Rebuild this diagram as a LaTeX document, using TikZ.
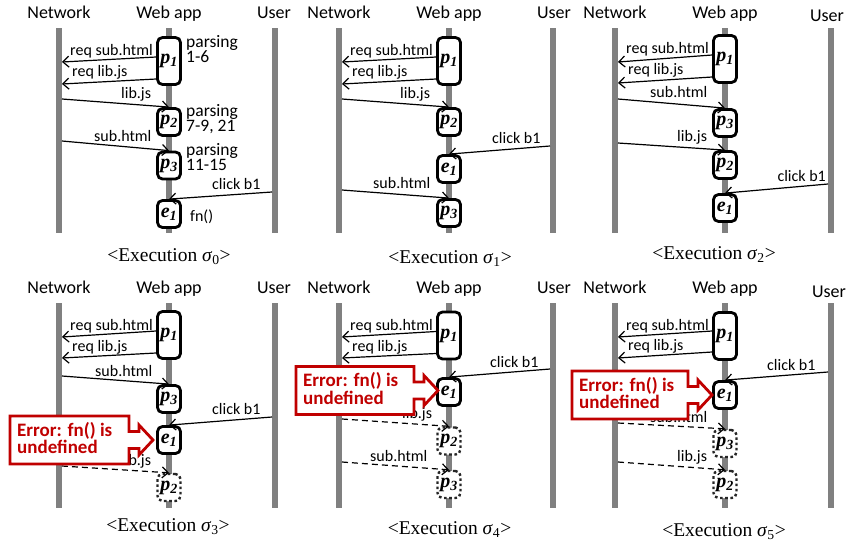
\documentclass[tikz,border=0pt]{standalone}
\usepackage{fontspec}
\setmainfont{Liberation Serif}
\newfontfamily\carlito{Carlito}
\usetikzlibrary{arrows.meta}
\definecolor{lifegray}{HTML}{808080}
\definecolor{errred}{HTML}{C00000}
\newcommand\hdrfont{\carlito\fontsize{18}{20}\selectfont}
\newcommand\lblfont{\carlito\fontsize{16}{18}\selectfont}
\newcommand\notefont{\carlito\fontsize{17.5}{19}\selectfont}
\newcommand\errfont{\carlito\bfseries\fontsize{19}{20}\selectfont}
\newcommand\capfont{\fontsize{19.5}{22}\selectfont}
\newcommand\boxfont{\bfseries\itshape\fontsize{20}{22}\selectfont}
\newcommand\procp[1]{p\textsubscript{#1}}
\newcommand\evte[1]{e\textsubscript{#1}}
\newcommand\execcap[1]{<Execution \textit{σ}\textsubscript{\upshape #1}>}
% two stacked lines whose baseline is that of the first line
\newcommand\twolines[3]{\vtop{\baselineskip=#3\relax\hbox{#1}\hbox{#2}}}

\tikzset{
  lifeline/.style={draw=lifegray, line width=5.5pt},
  proc/.style={draw, line width=2.8pt, rounded corners=5pt, fill=white,
    minimum width=23pt, minimum height=27pt, inner sep=0pt, font=\boxfont},
  tallproc/.style={proc, minimum height=47pt},
  ghost/.style={proc, draw=black!85, line width=2.4pt, dash pattern=on 2.6pt off 2.6pt},
  msg/.style={line width=1.2pt, -{Straight Barb[length=6pt,width=11pt,line width=1.2pt]}},
  pending/.style={msg, dash pattern=on 6pt off 4pt},
  lbl/.style={font=\lblfont, inner sep=0pt, anchor=base west},
  lble/.style={font=\lblfont, inner sep=0pt, anchor=base east},
  note/.style={font=\notefont, inner sep=0pt, anchor=base west},
  hdr/.style={font=\hdrfont, inner sep=0pt, anchor=base},
  captxt/.style={font=\capfont, inner sep=0pt, anchor=base},
  calloutline/.style={draw=errred, line width=2.8pt, fill=white, line join=miter},
  errtext/.style={font=\errfont, text=errred, inner sep=0pt, anchor=base west},
}

% three lifelines with their headers
\newcommand\lanes[3]{%
  \coordinate (#1-nt) at (59,28); \coordinate (#1-nb) at (59,233);
  \coordinate (#1-wt) at (169,28); \coordinate (#1-wb) at (169,233);
  \coordinate (#1-ut) at (#2,28); \coordinate (#1-ub) at (#2,233);
  \draw[lifeline] (#1-nt) -- (#1-nb);
  \draw[lifeline] (#1-wt) -- (#1-wb);
  \draw[lifeline] (#1-ut) -- (#1-ub);
  \node[hdr] (#1-hn) at (59,18) {Network};
  \node[hdr] (#1-hw) at (169,18) {Web app};
  \node[hdr] (#1-hu) at (#3) {User};
}

% red arrow-shaped error note: name, left x, centre y, tip x
\newcommand\errcallout[4]{%
  \draw[calloutline] (#2,#3-24) -- (#4-24,#3-24) -- (#4-24,#3-8.5) -- (#4-14,#3-8.5)
    -- (#4-14,#3-15) -- (#4,#3) -- (#4-14,#3+15) -- (#4-14,#3+8.5) -- (#4-24,#3+8.5)
    -- (#4-24,#3+24) -- (#2,#3+24) -- cycle;
  \node[errtext] (#1) at (#2+7,#3-4) {\twolines{Error: fn() is}{undefined}{17.5pt}};
}

\begin{document}
\begin{tikzpicture}[x=1pt,y=-1pt]
\fill[white] (0,0) rectangle (853,544);
\useasboundingbox (0,0) rectangle (853,544);

%% ---------------- sigma 0 ----------------
\begin{scope}
  \lanes{a}{275}{274,18}
  \coordinate (a-q1) at (62,62);
  \coordinate (a-q2) at (62,84);
  \coordinate (a-s1) at (62,99);
  \coordinate (a-s2) at (62,141);
  \coordinate (a-s3) at (272,192);
  \node[tallproc] (a-p1) at (169,61) {\procp{1}};
  \node[proc] (a-p2) at (169,122) {\procp{2}};
  \node[proc] (a-p3) at (169,165.5) {\procp{3}};
  \node[proc] (a-e1) at (169,214) {\evte{1}};
  \draw[msg] ([yshift=4pt]a-p1.west) -- (a-q1);
  \draw[msg] ([yshift=-18pt]a-p1.west) -- (a-q2);
  \draw[msg] (a-s1) -- (a-p2.north);
  \draw[msg] (a-s2) -- (a-p3.north);
  \draw[msg] (a-s3) -- (a-e1.north);
  \node[lbl] (a-l1) at (70,55) {req sub.html};
  \node[lbl] (a-l2) at (72,76) {req lib.js};
  \node[lbl] (a-l3) at (121,98) {lib.js};
  \node[lbl] (a-l4) at (94,141) {sub.html};
  \node[lbl] (a-l5) at (212,189) {click b1};
  \node[note] (a-n1) at (186,47) {\twolines{parsing}{1-6}{15pt}};
  \node[note] (a-n2) at (186,116) {\twolines{parsing}{7-9, 21}{15pt}};
  \node[note] (a-n3) at (186,155) {\twolines{parsing}{11-15}{15pt}};
  \node[lbl] (a-n4) at (190,221) {fn()};
  \node[captxt] (a-cap) at (169,261) {\execcap{0}};
\end{scope}

%% ---------------- sigma 1 ----------------
\begin{scope}[shift={(280,0)}]
  \lanes{b}{273}{274,18}
  \coordinate (b-q1) at (62,62);
  \coordinate (b-q2) at (62,84);
  \coordinate (b-s1) at (62,99);
  \coordinate (b-s2) at (270,146);
  \coordinate (b-s3) at (62,190);
  \node[tallproc] (b-p1) at (169,61) {\procp{1}};
  \node[proc] (b-p2) at (169,122) {\procp{2}};
  \node[proc] (b-e1) at (169,169) {\evte{1}};
  \node[proc] (b-p3) at (169,213) {\procp{3}};
  \draw[msg] ([yshift=4pt]b-p1.west) -- (b-q1);
  \draw[msg] ([yshift=-18pt]b-p1.west) -- (b-q2);
  \draw[msg] (b-s1) -- (b-p2.north);
  \draw[msg] (b-s2) -- (b-e1.north);
  \draw[msg] (b-s3) -- (b-p3.north);
  \node[lbl] (b-l1) at (70,55) {req sub.html};
  \node[lbl] (b-l2) at (72,76) {req lib.js};
  \node[lbl] (b-l3) at (120,98) {lib.js};
  \node[lbl] (b-l4) at (212,143) {click b1};
  \node[lbl] (b-l5) at (93,188) {sub.html};
  \node[captxt] (b-cap) at (170,263) {\execcap{1}};
\end{scope}

%% ---------------- sigma 2 ----------------
\begin{scope}[shift={(556,0)}]
  \lanes{c}{275}{271,21}
  \coordinate (c-q1) at (62,62);
  \coordinate (c-q2) at (62,83);
  \coordinate (c-s1) at (62,99);
  \coordinate (c-s2) at (62,143);
  \coordinate (c-s3) at (272,184);
  \node[tallproc] (c-p1) at (169,59) {\procp{1}};
  \node[proc] (c-p3) at (169,123) {\procp{3}};
  \node[proc] (c-p2) at (169,165) {\procp{2}};
  \node[proc] (c-e1) at (169,208) {\evte{1}};
  \draw[msg] ([yshift=4pt]c-p1.west) -- (c-q1);
  \draw[msg] ([yshift=-18pt]c-p1.west) -- (c-q2);
  \draw[msg] (c-s1) -- (c-p3.north);
  \draw[msg] (c-s2) -- (c-p2.north);
  \draw[msg] (c-s3) -- (c-e1.north);
  \node[lbl] (c-l1) at (70,53) {req sub.html};
  \node[lbl] (c-l2) at (72,74) {req lib.js};
  \node[lbl] (c-l3) at (94,97) {sub.html};
  \node[lbl] (c-l4) at (121,141) {lib.js};
  \node[lble] (c-l5) at (270,181) {click b1};
  \node[captxt] (c-cap) at (158,259) {\execcap{2}};
\end{scope}

%% ---------------- sigma 3 ----------------
\begin{scope}[shift={(0,275)}]
  \lanes{d}{275}{274,18}
  \coordinate (d-q1) at (62,62);
  \coordinate (d-q2) at (62,83);
  \coordinate (d-s1) at (62,101);
  \coordinate (d-s2) at (272,142);
  \coordinate (d-s3) at (62,191);
  \node[tallproc] (d-p1) at (169,60) {\procp{1}};
  \node[proc] (d-p3) at (169,124) {\procp{3}};
  \node[proc] (d-e1) at (169,165) {\evte{1}};
  \node[ghost] (d-p2) at (169,212.5) {\procp{2}};
  \draw[msg] ([yshift=4pt]d-p1.west) -- (d-q1);
  \draw[msg] ([yshift=-18pt]d-p1.west) -- (d-q2);
  \draw[msg] (d-s1) -- (d-p3.north);
  \draw[msg] (d-s2) -- (d-e1.north);
  \draw[pending] (d-s3) -- (d-p2.north);
  \node[lbl] (d-l1) at (70,55) {req sub.html};
  \node[lbl] (d-l2) at (72,76) {req lib.js};
  \node[lbl] (d-l3) at (95,101) {sub.html};
  \node[lbl] (d-l4) at (212,139) {click b1};
  \node[lbl] (d-l5) at (121,190) {lib.js};
  \errcallout{d-err}{10}{165}{153}
  \node[captxt] (d-cap) at (168,256) {\execcap{3}};
\end{scope}

%% ---------------- sigma 4 ----------------
\begin{scope}[shift={(280,275)}]
  \lanes{e}{273}{274,18}
  \coordinate (e-q1) at (62,62);
  \coordinate (e-q2) at (62,83);
  \coordinate (e-s1) at (270,94);
  \coordinate (e-s2) at (62,144);
  \coordinate (e-s3) at (62,187);
  \node[tallproc] (e-p1) at (169,60.5) {\procp{1}};
  \node[proc] (e-e1) at (169,117) {\evte{1}};
  \node[ghost] (e-p2) at (169,166) {\procp{2}};
  \node[ghost] (e-p3) at (169,209.5) {\procp{3}};
  \draw[msg] ([yshift=4pt]e-p1.west) -- (e-q1);
  \draw[msg] ([yshift=-18pt]e-p1.west) -- (e-q2);
  \draw[msg] (e-s1) -- (e-e1.north);
  \draw[pending] (e-s2) -- (e-p2.north);
  \draw[pending] (e-s3) -- (e-p3.north);
  \node[lbl] (e-l1) at (70,55) {req sub.html};
  \node[lbl] (e-l2) at (72,76) {req lib.js};
  \node[lbl] (e-l3) at (210,92) {click b1};
  \node[lbl] (e-l4) at (122,143) {lib.js};
  \node[lbl] (e-l5) at (90,186) {sub.html};
  \errcallout{e-err}{16}{115.5}{158}
  \node[captxt] (e-cap) at (169.5,259) {\execcap{4}};
\end{scope}

%% ---------------- sigma 5 ----------------
\begin{scope}[shift={(556,275)}]
  \lanes{f}{275}{273,22}
  \coordinate (f-q1) at (62,62);
  \coordinate (f-q2) at (62,83);
  \coordinate (f-s1) at (272,97);
  \coordinate (f-s2) at (62,148);
  \coordinate (f-s3) at (62,187);
  \node[tallproc] (f-p1) at (169,61) {\procp{1}};
  \node[proc] (f-e1) at (169,120) {\evte{1}};
  \node[ghost] (f-p3) at (169,168.5) {\procp{3}};
  \node[ghost] (f-p2) at (169,209.5) {\procp{2}};
  \draw[msg] ([yshift=5pt]f-p1.west) -- (f-q1);
  \draw[msg] ([yshift=-16pt]f-p1.west) -- (f-q2);
  \draw[msg] (f-s1) -- (f-e1.north);
  \draw[pending] (f-s2) -- (f-p3.north);
  \draw[pending] (f-s3) -- (f-p2.north);
  \node[lbl] (f-l1) at (70,55) {req sub.html};
  \node[lbl] (f-l2) at (72,75) {req lib.js};
  \node[lbl] (f-l3) at (211,95) {click b1};
  \node[lbl] (f-l4) at (94,147) {sub.html};
  \node[lbl] (f-l5) at (121,186) {lib.js};
  \errcallout{f-err}{16}{120}{156}
  \node[captxt] (f-cap) at (168,261) {\execcap{5}};
\end{scope}
\end{tikzpicture}
\end{document}
